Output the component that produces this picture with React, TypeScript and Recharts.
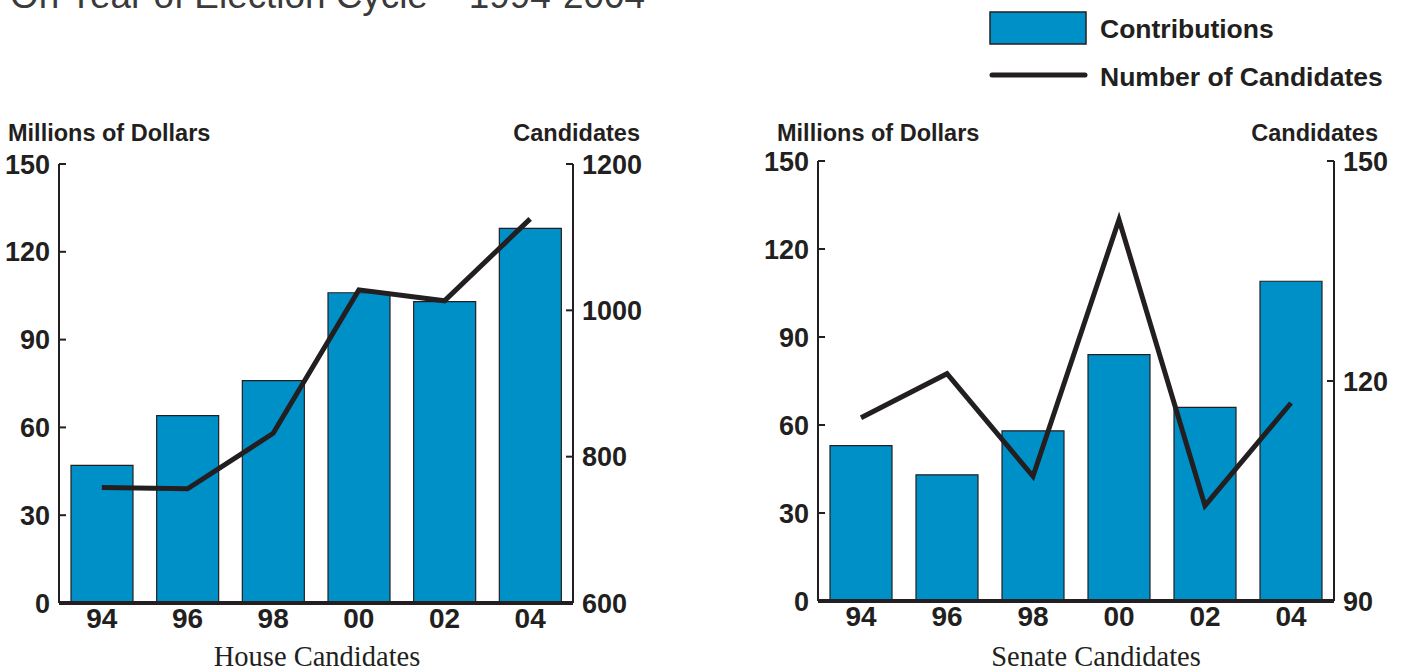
import React from "react";
import { ComposedChart, Bar, Line, XAxis, YAxis } from "recharts";

// election cycle years
const years = ["94", "96", "98", "00", "02", "04"];

// millions of dollars
const houseContributions = [47, 64, 76, 106, 103, 128];
const senateContributions = [53, 43, 58, 84, 66, 109];

// number of candidates
const houseCandidates = [758, 756, 832, 1028, 1013, 1125];
const senateCandidates = [115, 121, 107, 142, 103, 117];

const dollarTicks = [0, 30, 60, 90, 120, 150];
const houseCandidateTicks = [600, 800, 1000, 1200];
const senateCandidateTicks = [90, 120, 150];

const INK = "#231F20";
const BLUE = "#0090C8";
const SANS = "'Liberation Sans', Arial, Helvetica, sans-serif";
const SERIF = "'Liberation Serif', 'Times New Roman', serif";

const houseData = years.map((y, i) => ({
  year: y,
  contributions: houseContributions[i],
  candidates: houseCandidates[i],
}));

const senateData = years.map((y, i) => ({
  year: y,
  contributions: senateContributions[i],
  candidates: senateCandidates[i],
}));

const tickStyle = { fill: INK, fontSize: 27, fontWeight: 700, fontFamily: SANS };

type PanelProps = {
  data: typeof houseData;
  width: number;
  height: number;
  top: number;
  leftW: number;
  rightW: number;
  bottomH: number;
  rightDomain: [number, number];
  rightTicks: number[];
};

function Panel(p: PanelProps) {
  return (
    <ComposedChart
      width={p.width}
      height={p.height}
      data={p.data}
      margin={{ top: p.top, right: 0, left: 0, bottom: 0 }}
      barSize={62}
    >
      <XAxis
        dataKey="year"
        height={p.bottomH}
        tickSize={0}
        tickMargin={5}
        tick={{ ...tickStyle, fontSize: 28 }}
        axisLine={{ stroke: INK, strokeWidth: 4 }}
        tickLine={false}
        interval={0}
      />
      <YAxis
        yAxisId="left"
        orientation="left"
        width={p.leftW}
        domain={[0, 150]}
        ticks={dollarTicks}
        interval={0}
        tickSize={-7}
        tickMargin={16}
        tick={tickStyle}
        axisLine={{ stroke: INK, strokeWidth: 2 }}
        tickLine={{ stroke: INK, strokeWidth: 2 }}
      />
      <YAxis
        yAxisId="right"
        orientation="right"
        width={p.rightW}
        domain={p.rightDomain}
        ticks={p.rightTicks}
        interval={0}
        tickSize={-7}
        tickMargin={16}
        tick={{ ...tickStyle, textAnchor: "start" }}
        axisLine={{ stroke: INK, strokeWidth: 2 }}
        tickLine={{ stroke: INK, strokeWidth: 2 }}
      />
      <Bar
        yAxisId="left"
        dataKey="contributions"
        fill={BLUE}
        stroke={INK}
        strokeWidth={1.2}
        isAnimationActive={false}
      />
      <Line
        yAxisId="right"
        dataKey="candidates"
        type="linear"
        stroke={INK}
        strokeWidth={5}
        dot={false}
        activeDot={false}
        isAnimationActive={false}
      />
    </ComposedChart>
  );
}

export default function App() {
  return (
    <div
      style={{
        position: "absolute",
        left: 0,
        top: 0,
        width: 1403,
        height: 671,
        background: "#fff",
        overflow: "hidden",
      }}
    >
      <div style={{ position: "absolute", left: 0, top: 0 }}>
        <Panel
          data={houseData}
          width={700}
          height={671}
          top={164}
          leftW={59}
          rightW={127}
          bottomH={68}
          rightDomain={[600, 1200]}
          rightTicks={houseCandidateTicks}
        />
      </div>
      <div style={{ position: "absolute", left: 760, top: 0 }}>
        <Panel
          data={senateData}
          width={643}
          height={671}
          top={161}
          leftW={58}
          rightW={69}
          bottomH={70}
          rightDomain={[90, 150]}
          rightTicks={senateCandidateTicks}
        />
      </div>

      {/* titles, axis captions and legend */}
      <svg
        width={1403}
        height={671}
        style={{ position: "absolute", left: 0, top: 0, pointerEvents: "none" }}
      >
        <text
          x={10}
          y={8}
          fontFamily={SANS}
          fontSize={36}
          fill="#3a3a3a"
          textLength={635}
          lengthAdjust="spacingAndGlyphs"
        >
          On Year of Election Cycle – 1994-2004
        </text>

        <rect x={990} y={12} width={96} height={32} fill={BLUE} stroke={INK} strokeWidth={1.5} />
        <text x={1100} y={38} fontFamily={SANS} fontWeight={700} fontSize={26.5} fill={INK}>
          Contributions
        </text>
        <line x1={992} y1={75} x2={1085} y2={75} stroke={INK} strokeWidth={5} strokeLinecap="round" />
        <text x={1100} y={86} fontFamily={SANS} fontWeight={700} fontSize={26.5} fill={INK}>
          Number of Candidates
        </text>

        <g fontFamily={SANS} fontWeight={700} fontSize={23.5} fill={INK}>
          <text x={8} y={141}>Millions of Dollars</text>
          <text x={640} y={141} textAnchor="end">Candidates</text>
          <text x={777} y={141}>Millions of Dollars</text>
          <text x={1378} y={141} textAnchor="end">Candidates</text>
        </g>

        <g fontFamily={SERIF} fontSize={28.5} fill={INK} textAnchor="middle">
          <text x={317} y={666}>House Candidates</text>
          <text x={1096} y={666}>Senate Candidates</text>
        </g>
      </svg>
    </div>
  );
}
